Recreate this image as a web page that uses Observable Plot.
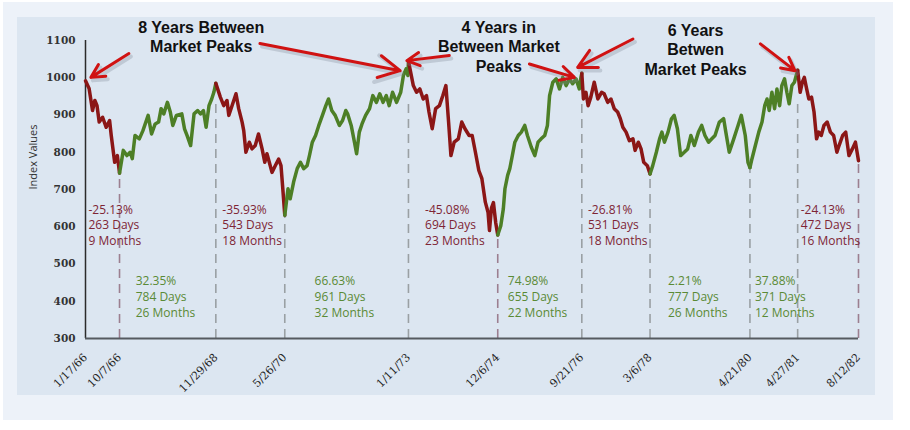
<!DOCTYPE html>
<html><head><meta charset="utf-8">
<script src="https://cdn.jsdelivr.net/npm/d3@7"></script>
<script src="https://cdn.jsdelivr.net/npm/@observablehq/plot@0.6"></script>
<style>
html,body{margin:0;padding:0;background:#fff;}
#wrap{position:relative;width:910px;height:430px;overflow:hidden;background:#fff;}
#outer{position:absolute;left:3px;top:2px;width:890px;height:418px;background:#edf2f9;}
#inner{position:absolute;left:17px;top:17px;width:858px;height:378px;background:#dce6f1;}
#chart{position:absolute;left:0;top:0;}
g[aria-label="y-axis tick label"] text{font-weight:bold;}
</style></head><body>
<div id="wrap"><div id="outer"></div><div id="inner"></div><div id="chart"></div></div>
<script>
// ---- data ----
const dates = [
"1966-01-17","1966-02-12","1966-03-11","1966-03-30","1966-04-15","1966-05-03","1966-05-30","1966-06-25","1966-07-22","1966-08-04","1966-08-31","1966-09-21","1966-10-07",
"1966-11-07","1966-12-04","1966-12-29","1967-01-14","1967-02-05","1967-03-10","1967-04-07","1967-05-18","1967-06-14","1967-07-12","1967-08-08","1967-08-27","1967-09-18","1967-10-16","1967-11-07","1967-11-26","1967-12-24","1968-02-03","1968-02-25","1968-03-15","1968-04-12","1968-05-09","1968-06-06","1968-07-03","1968-07-31","1968-08-27","1968-09-24","1968-10-21","1968-11-10","1968-11-29",
"1969-01-09","1969-02-05","1969-03-02","1969-03-15","1969-04-10","1969-05-11","1969-06-01","1969-06-27","1969-07-10","1969-07-28","1969-08-22","1969-09-12","1969-10-08","1969-11-03","1969-11-29","1969-12-20","1970-01-07","1970-01-25","1970-02-14","1970-03-12","1970-04-08","1970-04-25","1970-05-11","1970-05-26",
"1970-06-19","1970-07-07","1970-08-03","1970-08-29","1970-09-24","1970-10-20","1970-11-15","1970-12-03","1970-12-25","1971-01-20","1971-02-15","1971-03-13","1971-04-09","1971-04-30","1971-05-26","1971-06-22","1971-07-23","1971-08-18","1971-09-13","1971-09-26","1971-10-23","1971-11-18","1971-12-06","1971-12-27","1972-01-17","1972-02-13","1972-03-15","1972-04-10","1972-05-06","1972-06-02","1972-06-28","1972-07-24","1972-08-15","1972-09-10","1972-10-11","1972-11-12","1972-12-03","1972-12-24","1973-01-06","1973-01-11",
"1973-02-18","1973-03-15","1973-04-10","1973-05-05","1973-05-31","1973-06-20","1973-07-15","1973-08-10","1973-09-10","1973-10-05","1973-10-30","1973-11-20","1973-12-07","1974-01-02","1974-02-04","1974-03-01","1974-03-27","1974-04-27","1974-05-22","1974-06-16","1974-07-12","1974-08-06","1974-08-31","1974-09-21","1974-10-03","1974-10-18","1974-11-04","1974-11-21","1974-12-06",
"1974-12-31","1975-01-19","1975-01-31","1975-02-21","1975-03-11","1975-03-29","1975-04-18","1975-05-15","1975-06-09","1975-07-04","1975-07-25","1975-08-25","1975-09-20","1975-10-16","1975-11-10","1975-12-06","1975-12-27","1976-01-14","1976-02-09","1976-03-05","1976-03-31","1976-04-26","1976-05-21","1976-06-16","1976-07-12","1976-08-06","1976-09-01","1976-09-14","1976-09-21",
"1976-10-04","1976-10-22","1976-11-09","1976-11-30","1976-12-26","1977-01-22","1977-02-22","1977-03-14","1977-04-10","1977-05-05","1977-05-31","1977-06-27","1977-07-17","1977-08-05","1977-08-31","1977-09-26","1977-10-23","1977-11-09","1977-12-05","1977-12-26","1978-01-16","1978-02-11","1978-03-06",
"1978-03-27","1978-04-22","1978-05-18","1978-06-06","1978-06-26","1978-07-23","1978-08-18","1978-09-08","1978-10-04","1978-10-30","1978-11-26","1978-12-22","1979-01-17","1979-02-13","1979-03-16","1979-04-11","1979-05-07","1979-06-03","1979-06-28","1979-07-24","1979-08-25","1979-09-28","1979-10-16","1979-11-11","1979-12-16","1980-01-18","1980-02-13","1980-03-14","1980-04-04","1980-04-21",
"1980-05-06","1980-06-01","1980-06-27","1980-07-23","1980-08-13","1980-08-30","1980-09-17","1980-10-08","1980-10-29","1980-11-16","1980-12-07","1980-12-24","1981-01-14","1981-02-01","1981-02-19","1981-03-12","1981-04-01","1981-04-27",
"1981-05-15","1981-06-02","1981-06-17","1981-07-04","1981-07-22","1981-08-12","1981-09-01","1981-09-19","1981-10-07","1981-10-27","1981-11-17","1981-12-11","1982-01-06","1982-02-01","1982-02-25","1982-03-15","1982-04-10","1982-05-05","1982-05-30","1982-06-25","1982-07-20","1982-08-12"
];
const values = [
992,971,912,939,925,881,894,867,885,845,773,791,744,
805,791,800,783,845,836,858,899,849,876,881,917,903,934,908,872,899,903,863,845,818,903,912,903,912,867,925,943,961,985,
948,925,939,899,925,957,917,881,858,800,827,809,818,849,809,773,796,773,746,764,782,764,702,631,
702,675,720,756,773,756,764,791,827,845,872,899,925,943,912,899,872,885,912,903,872,827,796,854,876,899,917,952,934,957,934,952,925,961,934,961,1006,1024,1006,1045,
979,961,970,943,952,908,863,917,925,952,979,881,791,827,836,881,863,845,845,800,751,729,666,639,590,650,665,610,578,
603,648,702,738,756,791,827,845,854,872,845,814,791,827,836,845,872,952,988,997,970,1001,979,997,984,997,970,1001,1012,
943,961,925,948,988,943,961,957,934,943,917,908,890,867,854,831,836,805,827,809,773,764,742,
764,800,836,854,827,854,890,899,863,791,800,809,845,818,854,872,845,827,836,845,881,890,854,800,836,872,899,845,773,759,
782,818,854,881,925,943,912,961,917,970,925,979,997,961,930,979,988,1020,
961,988,1001,970,943,948,908,836,854,845,872,881,854,845,800,818,845,854,791,809,827,777
];
const turnDates = ["1966-01-17","1966-10-07","1968-11-29","1970-05-26","1973-01-11","1974-12-06","1976-09-21","1978-03-06","1980-04-21","1981-04-27","1982-08-12"];
const turnLabels = ["1/17/66","10/7/66","11/29/68","5/26/70","1/11/73","12/6/74","9/21/76","3/6/78","4/21/80","4/27/81","8/12/82"];
const pctChange = ["-25.13%","32.35%","-35.93%","66.63%","-45.08%","74.98%","-26.81%","2.21%","37.88%","-24.13%"];
const daysLen = [263,784,543,961,694,655,531,777,371,472];
const monthsLen = [9,26,18,32,23,22,18,26,12,16];
const yTicks = [300,400,500,600,700,800,900,1000,1100];
const noteText = ["8 Years Between\nMarket Peaks","4 Years in\nBetween Market\nPeaks","6 Years\nBetwen\nMarket Peaks"];
const noteDate = ["1968-07-11","1974-12-14","1979-02-22"];
const noteValue = [1156,1156,1148];
const arrowFromDate = ["1966-12-20","1969-11-13","1973-11-25","1975-08-11","1977-10-22","1980-07-10"];
const arrowFromValue = [1065,1092,1060,1037,1104,1091];
const arrowToDate = ["1966-02-26","1972-11-08","1972-12-29","1976-07-24","1976-08-19","1981-04-06"];
const arrowToValue = [1001,1019,1046,1001,1028,1019];

// ---- trading-day index (weekdays, NYSE Wednesday closures of 1968) ----
const parse = d3.utcParse("%Y-%m-%d");
const start = parse(turnDates[0]);
const end = parse(turnDates[turnDates.length - 1]);
const closeFrom = parse("1968-06-12"), closeTo = parse("1968-12-31");
const dayIndex = new Map();
{
  let n = 0;
  for (const day of d3.utcDays(d3.utcDay.offset(start, -30), d3.utcDay.offset(end, 30))) {
    dayIndex.set(+day, n);
    const w = day.getUTCDay();
    const closed = w === 0 || w === 6 || (w === 3 && day >= closeFrom && day <= closeTo);
    if (!closed && day >= start) n++;
  }
}
const tIdx = s => dayIndex.get(+parse(s));

const rows = dates.map((d, i) => ({t: tIdx(d), v: values[i]}));
const turnIdx = turnDates.map(tIdx);
const valueAt = t => rows.find(r => r.t === t).v;
const tickLabel = new Map(turnIdx.map((t, i) => [t, turnLabels[i]]));

const segRows = [];
const segInfo = [];
const W = 910, H = 430, mL = 85, mR = 52, mT = 40, mB = 92;
const idxPerPx = turnIdx[turnIdx.length - 1] / (W - mL - mR);
for (let s = 0; s < turnIdx.length - 1; s++) {
  const a = turnIdx[s], b = turnIdx[s + 1];
  const dir = valueAt(b) > valueAt(a) ? "up" : "down";
  for (const r of rows) if (r.t >= a && r.t <= b) segRows.push({...r, seg: s, dir});
  const half = (dir === "down" ? 28 : 32) * idxPerPx;
  const pad = (dir === "down" ? 3 : 5) * idxPerPx;
  segInfo.push({
    t: Math.max(a + pad, (a + b) / 2 - half),
    v: dir === "down" ? 666 : 474,
    dir,
    text: `${pctChange[s]}\n${daysLen[s]} Days\n${monthsLen[s]} Months`
  });
}
const rules = turnIdx.slice(1).map((t, i) => ({t, v: valueAt(t), date: turnDates[i + 1]}));
const mauve = new Set(["1966-10-07", "1974-12-06", "1982-08-12"]);
const notes = noteText.map((s, i) => ({t: tIdx(noteDate[i]), v: noteValue[i], text: s}));
const arrows = arrowFromDate.map((d, i) => ({
  x1: tIdx(d), y1: arrowFromValue[i], x2: tIdx(arrowToDate[i]), y2: arrowToValue[i]
}));

const chart = Plot.plot({
  width: W, height: H,
  marginLeft: mL, marginRight: mR, marginTop: mT, marginBottom: mB,
  style: {background: "transparent", overflow: "visible"},
  x: {type: "linear", domain: [0, turnIdx[turnIdx.length - 1]], axis: null},
  y: {domain: [300, 1100], axis: null},
  color: {domain: ["down", "up"], range: ["#8b1616", "#4d7f26"]},
  marks: [
    Plot.ruleX(rules, {x: "t", y1: 300, y2: d => Math.min(d.v, 930),
      stroke: d => mauve.has(d.date) ? "#9c7f90" : "#9aa0a4",
      strokeWidth: 1.6, strokeDasharray: "9,6"}),
    Plot.ruleX([0], {y1: 300, y2: 1100, stroke: "#2b2b2b", strokeWidth: 1.5}),
    Plot.ruleY([300], {stroke: "#555a60", strokeWidth: 2.2}),
    Plot.axisY({ticks: yTicks, tickFormat: d => String(d), tickSize: 0, tickPadding: 10, fontSize: 10.5,
      fontFamily: "DejaVu Serif", fontWeight: "bold", fill: "#333", label: null}),
    Plot.axisX({ticks: turnIdx, tickFormat: d => tickLabel.get(d), tickRotate: -45,
      tickSize: 0, tickPadding: 17, fontSize: 11, fontFamily: "DejaVu Serif", fill: "#222", label: null}),
    Plot.text(["Index Values"], {frameAnchor: "left", dx: -52, rotate: -90,
      fontSize: 11, fontFamily: "Open Sans", fill: "#333"}),
    Plot.line(segRows, {x: "t", y: "v", z: "seg", stroke: "dir", strokeWidth: 3.5,
      strokeLinejoin: "round", curve: "linear"}),
    Plot.text(segInfo, {x: "t", y: "v", text: "text", textAnchor: "start", lineAnchor: "top",
      lineHeight: 1.33, fontSize: 12, fontFamily: "Open Sans",
      fill: d => d.dir === "down" ? "#7e2535" : "#5a8a35"}),
    Plot.arrow(arrows, {x1: "x1", y1: "y1", x2: "x2", y2: "y2", stroke: "#7d8894",
      strokeOpacity: 0.3, strokeWidth: 4, headLength: 11, headAngle: 55, dx: 2, dy: 3}),
    Plot.arrow(arrows, {x1: "x1", y1: "y1", x2: "x2", y2: "y2", stroke: "#d01212",
      strokeWidth: 3, headLength: 12, headAngle: 55}),
    Plot.text(notes, {x: "t", y: "v", text: "text", lineAnchor: "top", lineHeight: 1.2,
      fontSize: 16, fontWeight: "bold", fontFamily: "Liberation Sans", fill: "#111"})
  ]
});
document.getElementById("chart").appendChild(chart);
</script></body></html>
